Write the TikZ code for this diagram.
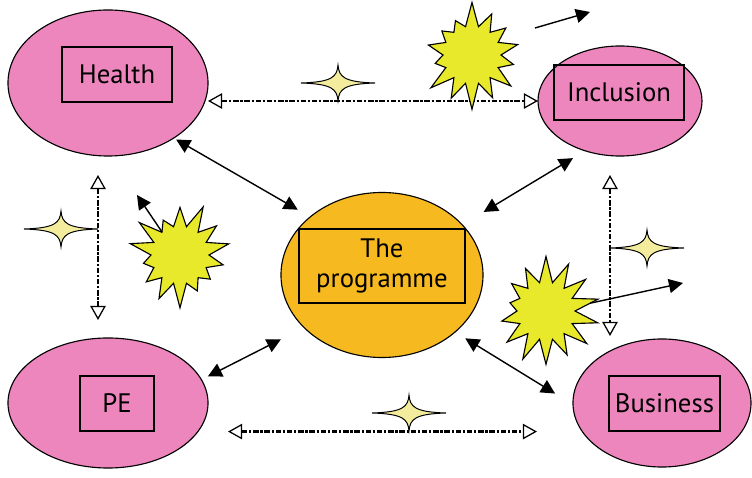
\documentclass[tikz,border=0pt]{standalone}
\usepackage{fontspec}
\setmainfont{PT Sans}
\usetikzlibrary{shapes.geometric,shapes.symbols,arrows.meta}
\definecolor{areapink}{HTML}{EC86BC}
\definecolor{progamber}{HTML}{F6B920}
\definecolor{burstyellow}{HTML}{E9E92C}
\definecolor{sparkleyellow}{HTML}{F3EC9C}
\begin{document}
\begin{tikzpicture}[x=0.025cm,y=-0.025cm,
  area/.style={draw,ellipse,fill=areapink,line width=0.8pt,inner sep=0pt,outer sep=0pt},
  namebox/.style={draw,line width=0.8pt,inner sep=0pt,font=\fontsize{19}{21}\selectfont,align=center},
  burst/.style={starburst,draw,fill=burstyellow,line width=0.8pt,starburst points=14,
    starburst point height=0.65cm,minimum width=2.75cm,minimum height=2.75cm,inner sep=0pt,outer sep=0pt},
  link/.style={line width=1pt,{Triangle[length=10pt,width=10pt]}-{Triangle[length=10pt,width=10pt]}},
  push/.style={line width=1pt,-{Triangle[length=10pt,width=10pt]}},
  dasharrow/.style={line width=1.9pt,dash pattern=on 4pt off 1.2pt on 1.6pt off 1.2pt,
    {Triangle[open,length=10pt,width=11pt,line width=0.9pt]}-{Triangle[open,length=10pt,width=11pt,line width=0.9pt]}},
  sparkle/.pic={\draw[fill=sparkleyellow,line width=0.7pt] (37,0) .. controls (6,1) and (1,6) .. (0,18)
    .. controls (-1,6) and (-6,1) .. (-37,0) .. controls (-6,-1) and (-1,-6) .. (0,-18)
    .. controls (1,-6) and (6,-1) .. cycle;}]
\useasboundingbox (0,0) rectangle (752,478);

% the five areas
\node[area,minimum width=5cm,minimum height=3.65cm] (health) at (108,83) {};
\node[area,minimum width=4.1cm,minimum height=2.75cm] (incl) at (620,101) {};
\node[area,minimum width=5cm,minimum height=3.25cm] (pe) at (108,403) {};
\node[area,minimum width=4.45cm,minimum height=3.2cm] (bus) at (662,403) {};
\node[area,fill=progamber,minimum width=5.05cm,minimum height=4.125cm] (prog) at (382,275) {};

\node[namebox,minimum width=2.75cm,minimum height=1.375cm] (healthbox) at (117,74.5) {Health};
\node[namebox,minimum width=3.25cm,minimum height=1.375cm] (inclbox) at (619,92.5) {Inclusion};
\node[namebox,minimum width=1.85cm,minimum height=1.375cm] (pebox) at (117,403.5) {PE};
\node[namebox,minimum width=2.775cm,minimum height=1.375cm] (busbox) at (664.5,403.5) {Business};
\node[namebox,minimum width=4.15cm,minimum height=1.85cm] (progbox) at (382,266) {The\\programme};

% links to the programme
\draw[link,shorten <=0.07cm,shorten >=0.36cm] (health.-40.7) -- (prog.141.4);
\draw[link,shorten <=0.355cm,shorten >=0.625cm] (incl.235.1) -- (prog.32.8);
\draw[link,shorten <=0.18cm,shorten >=0.65cm] (pe.14.2) -- (prog.-146.5);
\draw[link,shorten <=0.3cm,shorten >=0.525cm] (prog.-38.4) -- (bus.181.3);

% links between the areas
\draw[dasharrow] (incl.west -| health.east) -- (incl.west);
\draw[dasharrow,shorten <=0.5cm,shorten >=0.9cm] (pebox.south -| pe.east) -- (busbox.south -| bus.west);
\draw[dasharrow,shorten <=0.475cm,shorten >=0.45cm] ([xshift=-0.25cm]health.south) -- ([xshift=-0.25cm]pe.north);
\draw[dasharrow,shorten <=0.475cm,shorten >=0.075cm] ([xshift=-0.25cm]incl.south) -- ([xshift=-0.25cm]incl.south |- bus.north);

% sparkles
\pic at (338,83) {sparkle};
\pic at (61,229) {sparkle};
\pic at (647,248) {sparkle};
\pic at (409,413) {sparkle};

% bursts
\node[burst,random starburst=7] (tburst) at (472,55) {};
\node[burst,random starburst=21] (lburst) at (180,255) {};
\node[burst,random starburst=33] (rburst) at (546,311) {};

\coordinate (lbursttip) at (137,195);
\coordinate (rbursttip) at (683,283);
\coordinate (driftstart) at (535,28);
\coordinate (drifttip) at (590,12);
\draw[push] (lburst.128) -- (lbursttip);
\draw[push] (rburst.10) -- (rbursttip);
\draw[push] (driftstart) -- (drifttip);
\end{tikzpicture}
\end{document}
